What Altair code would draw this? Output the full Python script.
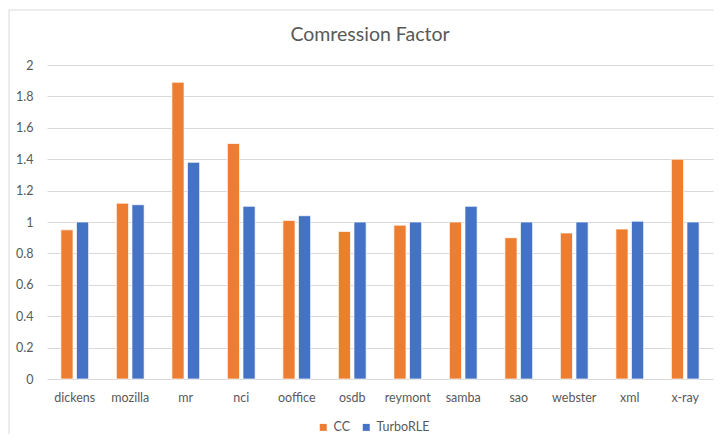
import altair as alt
import pandas as pd

files = ["dickens", "mozilla", "mr", "nci", "ooffice", "osdb", "reymont",
         "samba", "sao", "webster", "xml", "x-ray"]
cc = [0.95, 1.12, 1.89, 1.50, 1.01, 0.94, 0.98, 1.00, 0.90, 0.93, 0.955, 1.40]
turbo = [1.00, 1.11, 1.38, 1.10, 1.04, 1.00, 1.00, 1.10, 1.00, 1.00, 1.005, 1.00]
series = ["CC", "TurboRLE"]
colors = ["#ED7D31", "#4472C4"]
y_ticks = [0, 0.2, 0.4, 0.6, 0.8, 1, 1.2, 1.4, 1.6, 1.8, 2]

rows = []
for f, a, b in zip(files, cc, turbo):
    rows.append({"file": f, "series": "CC", "value": a})
    rows.append({"file": f, "series": "TurboRLE", "value": b})
df = pd.DataFrame(rows)

FONT = "Lato"
GRAY = "#595959"

bars = alt.Chart(df).mark_bar(stroke="white", strokeWidth=0.7).encode(
    x=alt.X("file:N", sort=files, title=None,
            scale=alt.Scale(paddingInner=0.5, paddingOuter=0.25),
            axis=alt.Axis(labelAngle=0, ticks=False, domain=False,
                          labelPadding=12, labelFontSize=12.5,
                          labelColor=GRAY, labelFont=FONT)),
    xOffset=alt.XOffset("series:N", sort=series,
                        scale=alt.Scale(paddingInner=0.22, paddingOuter=0)),
    y=alt.Y("value:Q", title=None,
            scale=alt.Scale(domain=[0, 2], nice=False),
            axis=alt.Axis(values=y_ticks, format="~g", ticks=False, domain=False,
                          labelPadding=14, labelFontSize=12.5,
                          labelColor=GRAY, labelFont=FONT,
                          gridColor="#d9d9d9", gridWidth=1)),
    color=alt.Color("series:N", sort=series,
                    scale=alt.Scale(domain=series, range=colors),
                    legend=alt.Legend(title=None, orient="none",
                                      legendX=270, legendY=356,
                                      direction="horizontal",
                                      symbolType="square", symbolSize=49,
                                      symbolStrokeWidth=0,
                                      labelFontSize=12.5, labelColor=GRAY,
                                      labelFont=FONT, columnPadding=9,
                                      labelOffset=4)),
)

border_top = alt.Chart(pd.DataFrame({"a": [0]})).mark_rule(
    color="#d9d9d9", strokeWidth=1).encode(
    x=alt.value(-38), x2=alt.value(700), y=alt.value(-55))
border_left = alt.Chart(pd.DataFrame({"a": [0]})).mark_rule(
    color="#d9d9d9", strokeWidth=1).encode(
    x=alt.value(-38), y=alt.value(-55), y2=alt.value(400))

chart = alt.layer(border_top, border_left, bars).properties(
    width=666, height=314,
    autosize=alt.AutoSizeParams(type="none"),
    padding={"left": 39, "top": 57, "right": 1, "bottom": 55},
    title=alt.TitleParams("Comression Factor", fontSize=19.5, font=FONT,
                          fontWeight="normal", color=GRAY,
                          anchor="middle", dx=-10, offset=0, dy=36),
).configure_view(stroke=None).configure_axis(labelFont=FONT)

chart.save("out.html", embed_options={"renderer": "svg", "actions": False})
